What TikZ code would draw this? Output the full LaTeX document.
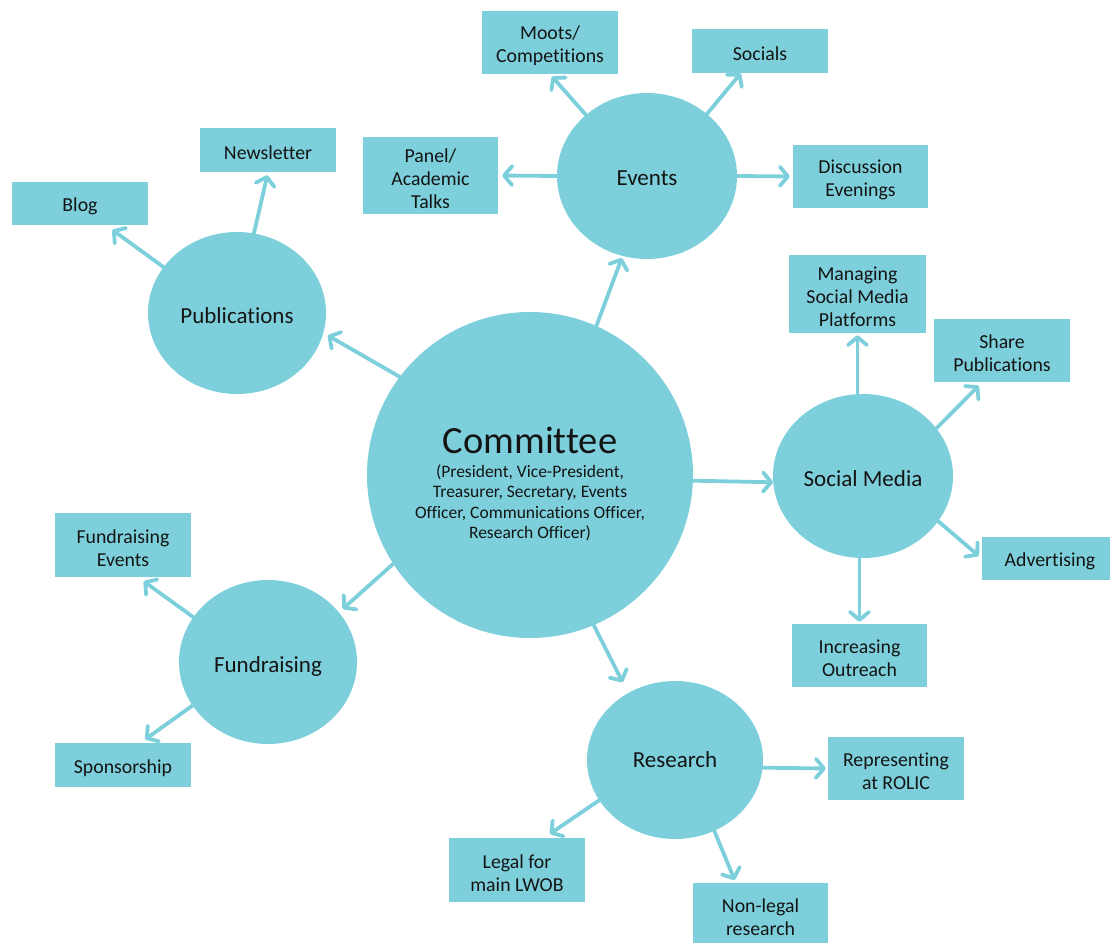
\documentclass[tikz,border=0pt]{standalone}
\usepackage{fontspec}
\setmainfont{Carlito}[Ligatures={NoCommon}]
\usetikzlibrary{arrows.meta,shapes.geometric}
\definecolor{tealfill}{RGB}{125,208,219}
\definecolor{txt}{RGB}{20,20,20}
\begin{document}
\begin{tikzpicture}[x=1pt,y=-1pt,
  bx/.style={fill=tealfill,inner sep=0pt},
  bxt/.style={align=center,text=txt,inner sep=0pt,yshift=-3pt,
    font=\fontsize{19.8}{23}\selectfont},
  circ/.style={ellipse,fill=tealfill,inner sep=0pt},
  cit/.style={text=txt,inner sep=0pt,yshift=-2.5pt,
    font=\fontsize{23}{27}\selectfont},
  arr/.style={draw=tealfill,line width=3.8pt,line cap=round,
    -{Straight Barb[length=8pt,width=19pt,round]}}]
\useasboundingbox (0,0) rectangle (1110,942);
\clip (0,0) rectangle (1110,942);

% circles
\node[circle,fill=tealfill,minimum size=326pt,inner sep=0pt] (com) at (530,475) {};
\node[text=txt,align=center,font=\fontsize{17.5}{20.5}\selectfont] (comtext) at (530,484)
  {{\fontsize{38.5}{40}\selectfont Committee}\\[3pt](President, Vice-President,\\Treasurer, Secretary, Events\\Officer, Communications Officer,\\Research Officer)};
\node[circ,minimum width=180pt,minimum height=166pt,label={[cit]center:Events}] (ev) at (647,176) {};
\node[circ,minimum width=178pt,minimum height=162pt,label={[cit]center:Publications}] (pub) at (237,313) {};
\node[circ,minimum width=180pt,minimum height=164pt,label={[cit]center:Social Media}] (sm) at (863,476) {};
\node[circ,minimum width=178pt,minimum height=164pt,label={[cit,yshift=-1.5pt]center:Fundraising}] (fund) at (268,662) {};
\node[circ,minimum width=176pt,minimum height=158pt,label={[cit,yshift=2.5pt]center:Research}] (res) at (675,760) {};

% boxes
\node[bx,minimum width=136pt,minimum height=63pt,label={[bxt]center:{Moots/\\Competitions}}] (moots) at (550,42.5) {};
\node[bx,minimum width=136pt,minimum height=44pt,label={[bxt]center:Socials}] (soc) at (760,51) {};
\node[bx,minimum width=135pt,minimum height=77pt,label={[bxt]center:{Panel/\\Academic\\Talks}}] (panel) at (430.5,175.5) {};
\node[bx,minimum width=135pt,minimum height=63pt,label={[bxt]center:{Discussion\\Evenings}}] (disc) at (860.5,176.5) {};
\node[bx,minimum width=136pt,minimum height=44pt,label={[bxt]center:Newsletter}] (news) at (268,150) {};
\node[bx,minimum width=136pt,minimum height=43pt,label={[bxt]center:Blog}] (blog) at (80,203.5) {};
\node[bx,minimum width=137pt,minimum height=78pt,label={[bxt]center:{Managing\\Social Media\\Platforms}}] (mgr) at (857.5,294) {};
\node[bx,minimum width=136pt,minimum height=63pt,label={[bxt]center:{Share\\Publications}}] (share) at (1002,350.5) {};
\node[bx,minimum width=136pt,minimum height=43pt,label={[bxt]center:Advertising}] (adv) at (1050,558.5) {};
\node[bx,minimum width=135pt,minimum height=63pt,label={[bxt]center:{Increasing\\Outreach}}] (inc) at (859.5,655.5) {};
\node[bx,minimum width=136pt,minimum height=64pt,label={[bxt]center:{Fundraising\\Events}}] (fe) at (123,545) {};
\node[bx,minimum width=136pt,minimum height=44pt,label={[bxt]center:Sponsorship}] (sp) at (123,765) {};
\node[bx,minimum width=136pt,minimum height=63pt,label={[bxt]center:{Representing\\at ROLIC}}] (rep) at (896,768.5) {};
\node[bx,minimum width=136pt,minimum height=64pt,label={[bxt]center:{Legal for\\main LWOB}}] (leg) at (517,870) {};
\node[bx,minimum width=135pt,minimum height=63pt,label={[bxt]center:{Non-legal\\research}}] (nl) at (760.5,914.5) {};

% committee arrows
\draw[arr,shorten >=2pt] (com.66) -- (ev.-107);
\draw[arr,shorten >=5pt] (com.143) -- (pub.-13);
\draw[arr] (com.-2.4) -- (sm.-176.3);
\draw[arr,shorten >=5pt] (com.213) -- (fund.35);
\draw[arr,shorten >=12pt] (com.-67) -- (res.125.5);

% events arrows
\draw[arr,shorten >=3pt] (ev.135) -- (moots.south);
\draw[arr] (ev.46.4) -- (soc.-131);
\draw[arr,shorten >=4pt] (ev.west) -- (panel.east);
\draw[arr,shorten >=3pt] (ev.east) -- (disc.west);

% publications arrows
\draw[arr,shorten >=3pt] (pub.78.7) -- (news.south);
\draw[arr,shorten >=8pt] (pub.148.7) -- (blog.-40);

% social media arrows
\draw[arr,shorten >=2pt] (mgr.south |- sm.north) -- (mgr.south);
\draw[arr,shorten >=5pt] (sm.33.9) -- (share.-122);
\draw[arr,shorten >=4pt] (sm.-31.5) -- (adv.west);
\draw[arr,shorten >=2pt] (inc.north |- sm.south) -- (inc.north);

% fundraising arrows
\draw[arr,shorten >=7pt] (fund.149) -- (fe.-65);
\draw[arr,shorten >=6pt] (fund.210.4) -- (sp.52);

% research arrows
\draw[arr,shorten >=2pt] (res.-5) -- (rep.west);
\draw[arr,shorten >=7pt] (res.208) -- (leg.50);
\draw[arr,shorten >=3pt] (res.-61.4) -- (nl.128.3);
\end{tikzpicture}
\end{document}
